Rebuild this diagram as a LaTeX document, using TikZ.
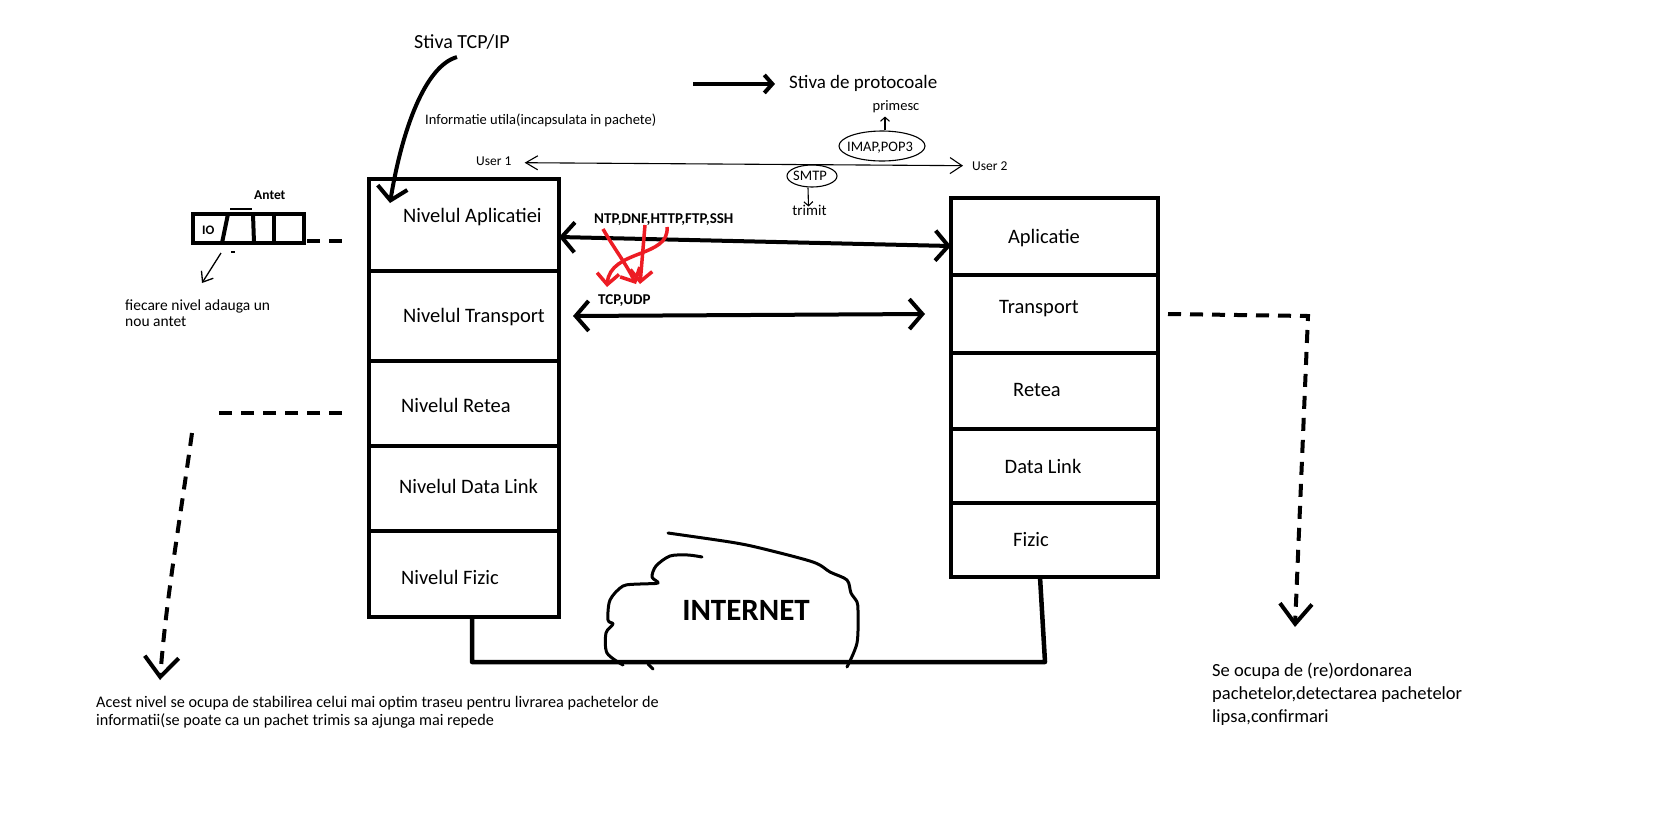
\documentclass[tikz,border=0pt]{standalone}
\usepackage{fontspec}
\setmainfont{Carlito}
\usetikzlibrary{arrows.meta,shapes.geometric,calc}
\definecolor{paintred}{RGB}{237,28,36}
\begin{document}
\begin{tikzpicture}[x=1pt,y=-1pt,
  layerbox/.style={draw, line width=4.5pt, inner sep=0pt, outer sep=0pt},
  lvl/.style={font=\fontsize{20.5}{24}\selectfont, inner sep=0pt},
  big/.style={font=\fontsize{20}{24}\selectfont, inner sep=0pt},
  note/.style={font=\fontsize{13.5}{16.5}\selectfont, inner sep=0pt, align=left},
  mid/.style={font=\fontsize{14.5}{17}\selectfont, inner sep=0pt},
  proto/.style={font=\bfseries\fontsize{15}{17}\selectfont, inner sep=0pt},
  thickarrow/.style={line width=4pt, -{Straight Barb[length=13pt,width=30pt]}},
  boththick/.style={line width=4pt, {Straight Barb[length=13pt,width=30pt]}-{Straight Barb[length=13pt,width=30pt]}},
  dashline/.style={line width=4pt, dash pattern=on 13pt off 9pt},
  redarrow/.style={draw=paintred, line width=3.5pt, -{Straight Barb[length=11pt,width=22pt]}},
  thinline/.style={line width=1.1pt},
  cloudline/.style={line width=3pt, line join=round, line cap=round}
]
\useasboundingbox[fill=white] (0,0) rectangle (1676,823);

% ---------- left stack
\node[layerbox, minimum width=190pt, minimum height=92pt] (LA) at (464,225) {};
\node[layerbox, minimum width=190pt, minimum height=90pt] (LT) at (464,316) {};
\node[layerbox, minimum width=190pt, minimum height=85pt] (LR) at (464,403.5) {};
\node[layerbox, minimum width=190pt, minimum height=85pt] (LD) at (464,488.5) {};
\node[layerbox, minimum width=190pt, minimum height=86pt] (LF) at (464,574) {};
\node[lvl, anchor=base west] (tLA) at (403,222) {Nivelul Aplicatiei};
\node[lvl, anchor=base west] (tLT) at (403,322) {Nivelul Transport};
\node[lvl, anchor=base west] (tLR) at (401,412) {Nivelul Retea};
\node[lvl, anchor=base west] (tLD) at (399,493) {Nivelul Data Link};
\node[lvl, anchor=base west] (tLF) at (401,584) {Nivelul Fizic};

% ---------- right stack
\node[layerbox, minimum width=207pt, minimum height=77pt] (RA) at (1054.5,236.5) {};
\node[layerbox, minimum width=207pt, minimum height=78pt] (RT) at (1054.5,314) {};
\node[layerbox, minimum width=207pt, minimum height=76pt] (RR) at (1054.5,391) {};
\node[layerbox, minimum width=207pt, minimum height=74pt] (RD) at (1054.5,466) {};
\node[layerbox, minimum width=207pt, minimum height=74pt] (RF) at (1054.5,540) {};
\node[lvl, anchor=base] (tRA) at (1044,243) {Aplicatie};
\node[lvl, anchor=base] (tRT) at (1039,313) {Transport};
\node[lvl, anchor=base] (tRR) at (1037,396) {Retea};
\node[lvl, anchor=base] (tRD) at (1043,473) {Data Link};
\node[lvl, anchor=base] (tRF) at (1031,546) {Fizic};

% ---------- physical link + cloud
\draw[line width=4.5pt, line join=round] ([xshift=8pt]LF.south) -- (472,662) -- (1045,662) -- ([xshift=-14.5pt]RF.south);
\draw[cloudline] plot[smooth, tension=0.5] coordinates {(668,533) (730,542) (760,548) (813,562) (830,572) (847,580) (851,593) (857,602) (858,612) (857,643) (847,667)};
\draw[cloudline] plot[smooth, tension=0.5] coordinates {(702,557) (688,555) (670,556) (656,566) (652,577) (658,583) (640,584) (623,586) (610,600) (608,620) (613,624) (606,633) (607,653) (623,665)};
\draw[cloudline] (648,664) -- (653,669);
\node[font=\bfseries\fontsize{31}{35}\selectfont, inner sep=0pt, anchor=base] (inet) at (746,620) {INTERNET};

% ---------- arrows between stacks
\draw[boththick] ([yshift=-12pt]LA.east) -- ([yshift=-9.5pt]RA.west);
\draw[boththick] ([xshift=14pt]LT.east) -- ([xshift=-26pt]RT.west);

% ---------- protocols
\node[proto, anchor=base west] (app) at (594,223) {NTP,DNF,HTTP,FTP,SSH};
\node[proto, anchor=base west] (tcp) at (598,304) {TCP,UDP};
\draw[redarrow] ($(app.base west)+(9,6)$) .. controls ($(app.base west)+(21,27)$) and ($(tcp.base west)+(27,-42)$) .. ($(tcp.base west)+(38,-20)$);
\draw[redarrow] ($(app.base west)+(51,2)$) .. controls ($(app.base west)+(49,30)$) .. ($(tcp.base west)+(42,-20)$);
\draw[redarrow] ($(app.base west)+(73,4)$) .. controls ($(app.base west)+(76,35)$) and ($(tcp.base west)+(12,-55)$) .. ($(tcp.base west)+(9,-17)$);

% ---------- top labels
\node[big, anchor=base west] (stiva) at (414,48) {Stiva TCP/IP};
\coordinate (tipA) at (390,203);
\draw[thickarrow] ([xshift=-5pt,yshift=-8pt]stiva.south) .. controls (425,66) and (402,130) .. (tipA);
\node[big, anchor=base west, font=\fontsize{19}{23}\selectfont] (stivap) at (789,88) {Stiva de protocoale};
\draw[line width=4pt, -{Straight Barb[length=8pt,width=18pt]}] ([xshift=-96pt,yshift=-1pt]stivap.west) -- ([xshift=-14pt,yshift=-1pt]stivap.west);
\node[note, anchor=base west, font=\fontsize{14.5}{17}\selectfont] (info) at (425,124) {Informatie utila(incapsulata in pachete)};

% ---------- users
\node[note, anchor=base west] (user1) at (476,165) {User 1};
\node[note, anchor=base west] (user2) at (972,170) {User 2};
\draw[thinline, {Straight Barb[length=12pt,width=14pt]}-{Straight Barb[length=12pt,width=16pt]}] ([xshift=13pt,yshift=-2pt]user1.east) -- ([xshift=-9pt]user2.west);
\node[draw, ellipse, thinline, minimum width=86pt, minimum height=30pt, inner sep=0pt] (imap) at (882,146) {};
\node[mid] (imaptxt) at (880,148) {IMAP,POP3};
\node[mid, anchor=base] (primesc) at (896,110) {primesc};
\draw[thinline, -{Straight Barb[length=4pt,width=9pt]}] ([xshift=3pt]imap.north) -- ([xshift=-11pt,yshift=-4pt]primesc.south);
\node[draw, ellipse, thinline, minimum width=50pt, minimum height=22pt, inner sep=0pt] (smtp) at (812,176) {};
\node[mid] (smtptxt) at (810,176) {SMTP};
\node[mid, anchor=base, font=\fontsize{15}{18}\selectfont] (trimit) at (809.5,215) {trimit};
\draw[thinline, -{Straight Barb[length=4pt,width=9pt]}] ([xshift=-4pt]smtp.south) -- ([xshift=-1pt,yshift=-2pt]trimit.north);

% ---------- antet
\node[draw, line width=4pt, minimum width=111pt, minimum height=29pt, inner sep=0pt, outer sep=0pt] (antet) at (248.5,228.5) {};
\draw[line width=4pt] ($(antet.north west)+(35,0)$) -- ($(antet.south west)+(29,0)$);
\draw[line width=4pt] ($(antet.north west)+(60,0)$) -- ($(antet.south west)+(61,0)$);
\draw[line width=4pt] ($(antet.north west)+(81,0)$) -- ($(antet.south west)+(81,0)$);
\draw[line width=1.5pt] ($(antet.north west)+(37,-5)$) -- ($(antet.north west)+(59,-5)$);
\node[proto, anchor=base west, font=\bfseries\fontsize{13.5}{16}\selectfont] (antetlbl) at (254,199) {Antet};
\node[proto, anchor=base west, font=\bfseries\fontsize{13}{16}\selectfont] (io) at (202,234) {IO};
\draw[line width=1.5pt] ($(antet.south west)+(38,9)$) -- ($(antet.south west)+(42,9)$);
\node[note, anchor=base west, font=\fontsize{15.5}{16}\selectfont] (fnote) at (125,326) {fiecare nivel adauga un\\nou antet};
\draw[line width=1.3pt, -{Straight Barb[length=9pt,width=14pt]}] ($(antet.south west)+(28,10)$) -- ($(antet.south west)+(9,40)$);
\draw[dashline] ([xshift=3pt,yshift=-12.5pt]antet.east) -- ++(41,0);

% ---------- retea note
\draw[dashline] ([xshift=-27pt,yshift=-9.5pt]LR.west) -- ++(-125,0);
\node[note, anchor=base west, font=\fontsize{16.2}{17.5}\selectfont] (retnote) at (96,725) {Acest nivel se ocupa de stabilirea celui mai optim traseu pentru livrarea pachetelor de\\informatii(se poate ca un pachet trimis sa ajunga mai repede};
\coordinate (retStart) at (192,433);
\coordinate (retTip) at (160,680);
\draw[dashline, -{Straight Barb[length=20pt,width=34pt]}] (retStart) .. controls (180,520) and (166,600) .. (retTip);

% ---------- transport note
\node[font=\fontsize{18.5}{23}\selectfont, inner sep=0pt, align=left, anchor=base west] (rnote) at (1212,722) {Se ocupa de (re)ordonarea\\pachetelor,detectarea pachetelor\\lipsa,confirmari};
\coordinate (tBend) at (1308,316);
\coordinate (tTip) at (1295,627);
\draw[dashline, -{Straight Barb[length=20pt,width=32pt]}] ([xshift=10pt]RT.east) -- (tBend) -- (tTip);
\end{tikzpicture}
\end{document}
